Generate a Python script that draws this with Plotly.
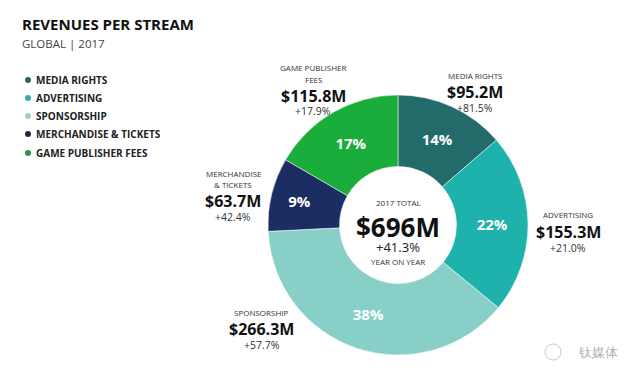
import plotly.graph_objects as go

categories = ["MEDIA RIGHTS", "ADVERTISING", "SPONSORSHIP", "MERCHANDISE & TICKETS", "GAME PUBLISHER FEES"]
revenues = [95.2, 155.3, 266.3, 63.7, 115.8]
growth = ["+81.5%", "+21.0%", "+57.7%", "+42.4%", "+17.9%"]
label_lines = [["MEDIA RIGHTS"], ["ADVERTISING"], ["SPONSORSHIP"], ["MERCHANDISE", "& TICKETS"], ["GAME PUBLISHER", "FEES"]]
colors = ["#236b6b", "#1fb2ad", "#88cfc7", "#1b2d63", "#1bad3b"]
legend_colors = ["#2f6658", "#36aaa6", "#a9c9c6", "#23283f", "#2e8f52"]

# page body has an 8px margin: figure covers window pixels 8..640 / 8..384
OFF = 8
W, H = 640 - OFF, 384 - OFF
FONT = "Open Sans"

def px(x):
    return (x - OFF) / W

def py(y):
    return 1 - (y - OFF) / H

fig = go.Figure()
fig.add_trace(go.Pie(
    labels=categories, values=revenues, sort=False, direction="clockwise", rotation=0,
    hole=0.45,
    marker=dict(colors=colors, line=dict(color="white", width=0.5)),
    texttemplate="%{percent:.0%}", textposition="inside", insidetextorientation="horizontal",
    textfont=dict(color="white", size=15, family=FONT, weight="bold"),
    domain=dict(x=[px(268), px(528)], y=[py(355), py(95)]),
    showlegend=False, hoverinfo="label+value",
))

ann = []
def txt(x, y, s, size, color="#1a1a1a", bold=False, anchor="center"):
    ann.append(dict(x=px(x), y=py(y), xref="paper", yref="paper", text=s, showarrow=False,
                    xanchor=anchor, yanchor="middle", borderpad=0,
                    font=dict(family=FONT, size=size, color=color, weight="bold" if bold else "normal")))

# Title
txt(21, 24, "REVENUES PER STREAM", 15, "#111111", True, "left")
txt(21, 43, "GLOBAL | 2017", 11.5, "#444444", False, "left")

# Legend
shapes = []
leg_y = [80, 98, 116, 134, 153]
for c, col, y in zip(categories, legend_colors, leg_y):
    shapes.append(dict(type="circle", xref="paper", yref="paper",
                       x0=px(28 - 3), x1=px(28 + 3), y0=py(y + 3), y1=py(y - 3),
                       fillcolor=col, line=dict(width=0)))
    txt(35, y, c, 10, "#222222", True, "left")

# Slice callouts
pos = [(475, 75), (568, 215), (262, 312), (233, 173), (313, 68)]
for lines, v, g, (x, y) in zip(label_lines, revenues, growth, pos):
    yy = y
    for ln in lines:
        txt(x, yy, ln, 8, "#333333")
        yy += 11
    txt(x, yy + 6, f"${v}M", 16, "#111111", True)
    txt(x, yy + 21.5, g, 10.5, "#333333")

# Center text
total = round(sum(revenues))
txt(398, 203, "2017 TOTAL", 8, "#333333")
txt(398, 227, f"${total}M", 26, "#111111", True)
txt(398, 247, "+41.3%", 13, "#222222")
txt(398, 262, "YEAR ON YEAR", 8, "#333333")

# Watermark
txt(598, 352, "钛媒体", 13, "#b0b0b0")
shapes.append(dict(type="circle", xref="paper", yref="paper",
                   x0=px(545), x1=px(561), y0=py(360), y1=py(344),
                   line=dict(color="#cccccc", width=1)))

fig.update_layout(width=W, height=H, margin=dict(l=0, r=0, t=0, b=0),
                  paper_bgcolor="white", plot_bgcolor="white",
                  annotations=ann, shapes=shapes)
fig.write_html("out.html")
